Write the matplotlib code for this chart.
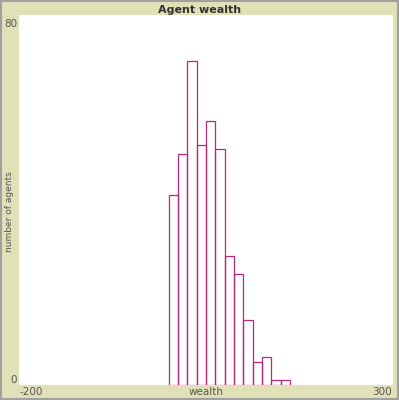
import matplotlib
matplotlib.use("Agg")
import matplotlib.pyplot as plt
from matplotlib.patches import Rectangle

# histogram of agent wealth (bins of 12.5 starting at 0)
bin_left = [0, 12.5, 25, 37.5, 50, 62.5, 75, 87.5, 100, 112.5, 125, 137.5, 150]
counts = [41, 50, 70, 52, 57, 51, 28, 24, 14, 5, 6, 1, 1]
bin_width = 12.5

xmin, xmax = -200, 300
ymin, ymax = 0, 80

bg = "#e1e1b8"
bar_col = "#b8287a"
txt_col = "#555555"

fig = plt.figure(figsize=(3.99, 4.0), dpi=100, facecolor=bg)

# frame around the widget
fig.add_artist(Rectangle((0.002, 0.002), 0.996, 0.996, transform=fig.transFigure,
                         fill=False, edgecolor="#a0a0a0", linewidth=1.5))

ax = fig.add_axes([19 / 399, 15 / 400, 374 / 399, 370 / 400])
ax.set_facecolor("white")
ax.bar(bin_left, counts, width=bin_width, align="edge", fill=False,
       edgecolor=bar_col, linewidth=0.9)
ax.set_xlim(xmin, xmax)
ax.set_ylim(ymin, ymax)
ax.set_xticks([])
ax.set_yticks([])
for s in ax.spines.values():
    s.set_visible(False)

fig.text(0.5, 1 - 10 / 400, "Agent wealth", ha="center", va="center",
         fontsize=8, fontweight="bold", color="#333333")
fig.text(17 / 399, 1 - 24 / 400, str(ymax), ha="right", va="center", fontsize=7.5, color=txt_col)
fig.text(17 / 399, 1 - 380 / 400, str(ymin), ha="right", va="center", fontsize=7.5, color=txt_col)
fig.text(19 / 399, 1 - 392 / 400, str(xmin), ha="left", va="center", fontsize=7.5, color=txt_col)
fig.text(392 / 399, 1 - 392 / 400, str(xmax), ha="right", va="center", fontsize=7.5, color=txt_col)
fig.text(206 / 399, 1 - 392 / 400, "wealth", ha="center", va="center", fontsize=7.5, color=txt_col)
fig.text(10 / 399, 1 - 212 / 400, "number of agents", ha="center", va="center",
         rotation=90, fontsize=6.5, color=txt_col)

fig.savefig("out.png", dpi=100, facecolor=bg)
